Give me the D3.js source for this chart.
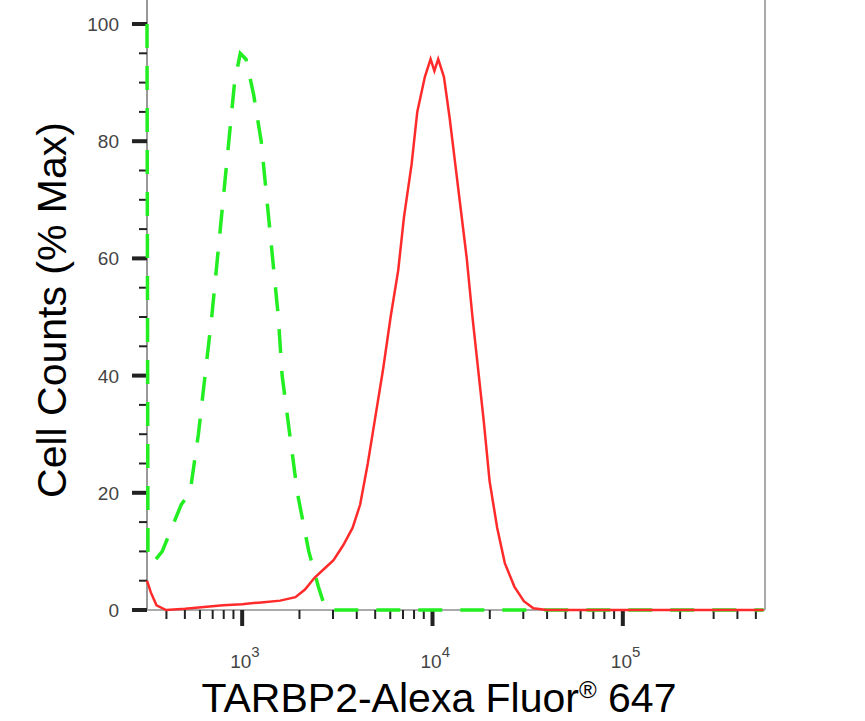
<!DOCTYPE html><html><head><meta charset="utf-8"><script src="https://cdn.jsdelivr.net/npm/d3@7"></script>
<style>body{margin:0;background:#fff}</style></head><body><svg id="c" width="865" height="721"></svg>
<script>
const yTicks=[0,20,40,60,80,100];
const xDecades=[3,4,5];
// log10(intensity), % max
const isotype=[[2.5,100],[2.505,9],[2.53,8],[2.58,10],[2.63,14],[2.68,18],[2.726,20],[2.77,30],[2.805,40],[2.84,50],[2.87,60],[2.90,70],[2.93,80],[2.96,90],[2.99,95],[3.02,94],[3.06,88],[3.1,80],[3.13,70],[3.16,60],[3.19,50],[3.21,40],[3.25,30],[3.29,20],[3.35,10],[3.40,4],[3.44,0],[5.74,0]];
const tarbp2=[[2.5,5],[2.52,3],[2.55,0.8],[2.6,0],[2.7,0.2],[2.8,0.5],[2.9,0.8],[3.0,1],[3.1,1.3],[3.2,1.6],[3.28,2.2],[3.33,3.5],[3.38,5.5],[3.43,7],[3.48,8.5],[3.53,11],[3.58,14],[3.62,18],[3.66,25],[3.70,33],[3.74,41],[3.78,50],[3.82,58],[3.85,67],[3.89,76],[3.92,85],[3.96,91],[3.99,94],[4.01,92],[4.03,94],[4.06,91],[4.09,84],[4.12,76],[4.15,68],[4.18,60],[4.21,50],[4.24,41],[4.27,32],[4.30,22],[4.34,14],[4.38,8],[4.43,4],[4.48,1.5],[4.53,0.3],[4.6,0],[5.74,0]];
const svg=d3.select("#c");
const L=147,R=765,T=24,B=610;
const x=d3.scaleLinear().domain([2.5,5.747]).range([L,R]);
const y=d3.scaleLinear().domain([0,100]).range([B,T]);
const g=svg.append("g");
g.append("line").attr("x1",L).attr("x2",L).attr("y1",0).attr("y2",B).attr("stroke","#999").attr("stroke-width",2);
g.append("line").attr("x1",R).attr("x2",R).attr("y1",0).attr("y2",B).attr("stroke","#aaa").attr("stroke-width",2);
g.append("line").attr("x1",L).attr("x2",R).attr("y1",B).attr("y2",B).attr("stroke","#aaa").attr("stroke-width",2);
const yt=[];for(let v=0;v<=100;v+=5)yt.push(v);
g.selectAll("line.yt").data(yt).join("line").attr("class","yt").attr("x1",v=>L-(v%20===0?15:8)).attr("x2",L).attr("y1",v=>y(v)).attr("y2",v=>y(v)).attr("stroke","#222").attr("stroke-width",v=>v%20===0?4:2);
g.selectAll("text.yl").data(yTicks).join("text").attr("class","yl").attr("x",L-28).attr("y",v=>y(v)+7).attr("text-anchor","end").attr("font-family","Arial, Liberation Sans").attr("font-size",19).attr("fill","#444").text(v=>v);
const xt=[];for(let d=2;d<=5;d++)for(let m=1;m<10;m++){const lv=d+Math.log10(m);if(lv>=2.5&&lv<=5.75)xt.push([lv,m===1]);}
g.selectAll("line.xt").data(xt).join("line").attr("class","xt").attr("x1",d=>x(d[0])).attr("x2",d=>x(d[0])).attr("y1",B).attr("y2",d=>B+(d[1]?16:9)).attr("stroke","#222").attr("stroke-width",d=>d[1]?4:2);
xDecades.forEach(d=>{const t=g.append("text").attr("x",x(d)-12).attr("y",B+58).attr("font-family","Arial, Liberation Sans").attr("font-size",19).attr("fill","#444");t.append("tspan").text("10");t.append("tspan").attr("dy",-11).attr("font-size",15).text(d);});
const line2=d3.line().x(d=>x(d[0])).y(d=>y(d[1])).curve(d3.curveLinear);
g.append("path").attr("d",line2(isotype)).attr("fill","none").attr("stroke","#22ee22").attr("stroke-width",3.5).attr("stroke-dasharray","24,18");
g.append("path").attr("d",line2(tarbp2)).attr("fill","none").attr("stroke","#ff2a2a").attr("stroke-width",2.5);
svg.append("text").attr("transform","translate(66,310) rotate(-90)").attr("text-anchor","middle").attr("font-family","Arial, Liberation Sans").attr("font-size",41).text("Cell Counts (% Max)");
const xl=svg.append("text").attr("x",439).attr("y",712).attr("text-anchor","middle").attr("font-family","Arial, Liberation Sans").attr("font-size",41);
xl.append("tspan").text("TARBP2-Alexa Fluor");xl.append("tspan").attr("dy",-14).attr("font-size",24).text("®");xl.append("tspan").attr("dy",14).text(" 647");
</script></body></html>
